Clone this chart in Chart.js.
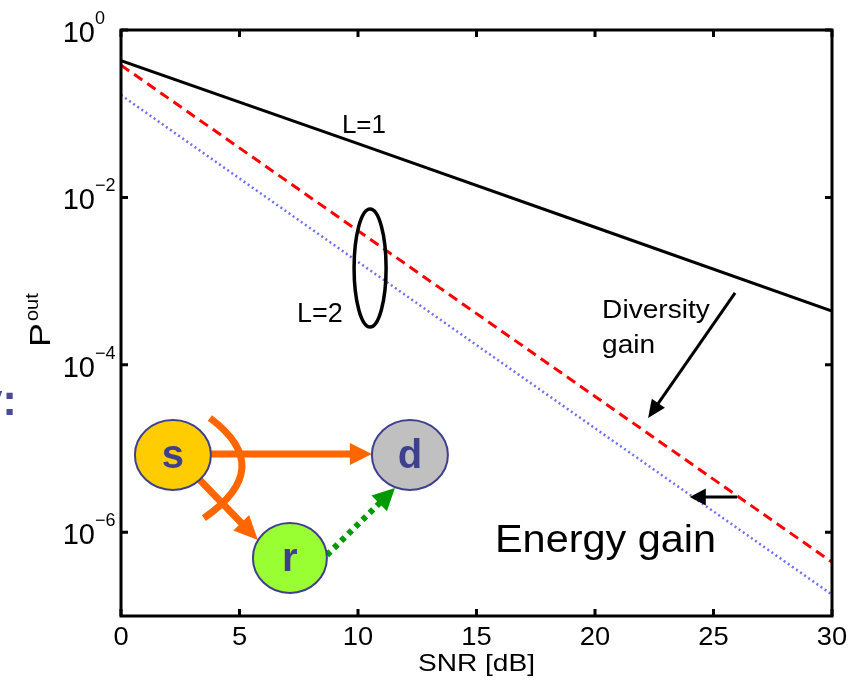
<!DOCTYPE html>
<html>
<head>
<meta charset="utf-8">
<title>Outage probability vs SNR</title>
<script src="https://cdn.jsdelivr.net/npm/chart.js@4.4.1/dist/chart.umd.min.js"></script>
<style>
  html, body { margin: 0; padding: 0; background: #fff; }
  #wrap { position: relative; width: 865px; height: 680px; }
</style>
</head>
<body>
<div id="wrap"><canvas id="outage-chart" width="865" height="680"></canvas></div>
<script>
// values (straight lines on a log axis)
const snrDb = [0, 10, 20, 30];
const outageL1 = [0.43, 0.044, 0.0044, 0.00044];          // solid black
const outageL2 = [0.38, 0.0040, 0.000042, 0.00000044];    // red dashed
const outageL2Shifted = [0.167, 0.0017, 0.0000175, 0.00000018]; // blue dotted

const xTicks = [0, 5, 10, 15, 20, 25, 30];
const yTickExponents = [0, -2, -4, -6];

const font = 'Arial, "Liberation Sans", sans-serif';
const nodeInk = '#3f3f8f';
const orange = '#ff6600';

function toPoints(values) {
    return snrDb.map((x, i) => ({ x: x, y: values[i] }));
}

// text with optional horizontal stretch (the source fonts run a bit wide)
function drawText(ctx, str, x, y, size, opts) {
    opts = opts || {};
    ctx.save();
    ctx.font = (opts.weight || '') + ' ' + size + 'px ' + font;
    ctx.fillStyle = opts.color || '#000';
    ctx.textAlign = opts.align || 'left';
    ctx.textBaseline = 'alphabetic';
    ctx.translate(x, y);
    if (opts.rotate) ctx.rotate(opts.rotate);
    ctx.scale(opts.sx || 1, 1);
    ctx.fillText(str, 0, 0);
    ctx.restore();
}

function drawArrow(ctx, x1, y1, x2, y2, o) {
    const ang = Math.atan2(y2 - y1, x2 - x1);
    const bx = x2 - Math.cos(ang) * o.head;
    const by = y2 - Math.sin(ang) * o.head;
    ctx.save();
    ctx.strokeStyle = o.color;
    ctx.fillStyle = o.color;
    ctx.lineWidth = o.width;
    ctx.setLineDash(o.dash || []);
    ctx.beginPath();
    ctx.moveTo(x1, y1);
    ctx.lineTo(bx + Math.cos(ang) * 2, by + Math.sin(ang) * 2);
    ctx.stroke();
    ctx.setLineDash([]);
    ctx.beginPath();
    ctx.moveTo(x2, y2);
    ctx.lineTo(bx + Math.sin(ang) * o.half, by - Math.cos(ang) * o.half);
    ctx.lineTo(bx - Math.sin(ang) * o.half, by + Math.cos(ang) * o.half);
    ctx.closePath();
    ctx.fill();
    ctx.restore();
}

function drawNode(ctx, cx, cy, rx, ry, fill, letter) {
    ctx.save();
    ctx.beginPath();
    ctx.ellipse(cx, cy, rx, ry, 0, 0, Math.PI * 2);
    ctx.fillStyle = fill;
    ctx.fill();
    ctx.lineWidth = 2;
    ctx.strokeStyle = nodeInk;
    ctx.stroke();
    ctx.restore();
    drawText(ctx, letter, cx, cy + 13, 40, { weight: 'bold', color: nodeInk, align: 'center' });
}

// frame, inward ticks, labels and all the slide annotations
const matlabFrame = {
    id: 'matlabFrame',
    afterDraw(chart) {
        const ctx = chart.ctx;
        const a = chart.chartArea;
        const xs = chart.scales.x;
        const ys = chart.scales.y;
        const X = v => xs.getPixelForValue(v);
        const Y = e => ys.getPixelForValue(Math.pow(10, e));

        ctx.save();
        ctx.strokeStyle = '#000';
        ctx.lineWidth = 3;
        ctx.strokeRect(a.left, a.top, a.right - a.left, a.bottom - a.top);

        ctx.beginPath();
        xTicks.forEach(t => {
            const px = X(t);
            ctx.moveTo(px, a.bottom); ctx.lineTo(px, a.bottom - 7);
            ctx.moveTo(px, a.top); ctx.lineTo(px, a.top + 7);
        });
        yTickExponents.forEach(e => {
            const py = Y(e);
            ctx.moveTo(a.left, py); ctx.lineTo(a.left + 7, py);
            ctx.moveTo(a.right, py); ctx.lineTo(a.right - 7, py);
        });
        ctx.stroke();
        ctx.restore();

        xTicks.forEach(t => {
            drawText(ctx, String(t), X(t), a.bottom + 29, 26, { align: 'center', sx: 1.05 });
        });
        yTickExponents.forEach(e => {
            const py = Y(e);
            drawText(ctx, '10', a.left - 26, py + 12, 29, { align: 'right' });
            const exp = e === 0 ? '0' : '\u2212' + Math.abs(e);
            drawText(ctx, exp, a.left - 26, py - 6, 18, {});
        });

        // axis titles
        drawText(ctx, 'SNR [dB]', X(15), a.bottom + 55, 24, { align: 'center', sx: 1.17 });
        drawText(ctx, 'P', 50, 347, 30, { rotate: -Math.PI / 2, sx: 1.2 });
        drawText(ctx, 'out', 38, 321, 19, { rotate: -Math.PI / 2, sx: 1.05 });

        // cut-off slide text on the far left
        drawText(ctx, 'y:', 17, 415, 44, { weight: 'bold', color: '#4a4a96', align: 'right' });

        // curve labels and the L=2 ellipse
        drawText(ctx, 'L=1', X(9.32), Y(-1.23), 26, {});
        drawText(ctx, 'L=2', X(7.43), Y(-3.49), 27, {});
        ctx.save();
        ctx.beginPath();
        ctx.ellipse(X(10.51), Y(-2.843), 16, 59, 0, 0, Math.PI * 2);
        ctx.lineWidth = 3.5;
        ctx.strokeStyle = '#000';
        ctx.stroke();
        ctx.restore();

        // diversity gain
        drawText(ctx, 'Diversity', X(20.3), Y(-3.44), 26, { sx: 1.08 });
        drawText(ctx, 'gain', X(20.3), Y(-3.86), 26, { sx: 1.08 });
        drawArrow(ctx, X(25.91), Y(-3.14), X(22.24), Y(-4.635),
            { color: '#000', width: 3, head: 18, half: 8 });

        // energy gain
        drawArrow(ctx, X(25.99), Y(-5.579), X(24.0), Y(-5.579),
            { color: '#000', width: 3, head: 16, half: 8.5 });
        drawText(ctx, 'Energy gain', X(15.78), Y(-6.236), 38, { sx: 1.09 });

        // relay diagram, anchored at the source node
        const sx = X(2.19), sy = Y(-5.077);
        ctx.save();
        ctx.strokeStyle = orange;
        ctx.lineWidth = 7;
        ctx.beginPath();
        ctx.moveTo(sx + 37, sy - 37);
        ctx.quadraticCurveTo(sx + 104, sy + 13, sx + 31, sy + 63);
        ctx.stroke();
        ctx.restore();
        drawArrow(ctx, sx + 36, sy - 1, sx + 199, sy - 1,
            { color: orange, width: 7, head: 22, half: 11 });
        drawArrow(ctx, sx + 25, sy + 23, sx + 85, sy + 85,
            { color: orange, width: 7, head: 24, half: 11 });
        drawArrow(ctx, sx + 154, sy + 100, sx + 222, sy + 33,
            { color: '#009900', width: 6, head: 22, half: 11, dash: [5, 5] });

        drawNode(ctx, sx, sy, 38, 35, '#ffcc00', 's');
        drawNode(ctx, sx + 237, sy, 38, 35, '#c0c0c0', 'd');
        drawNode(ctx, sx + 117, sy + 103, 37, 35, '#99ff33', 'r');
    }
};

const chart = new Chart(document.getElementById('outage-chart'), {
    type: 'line',
    data: {
        datasets: [
            {
                label: 'L=1',
                data: toPoints(outageL1),
                borderColor: '#000000',
                borderWidth: 3,
                pointRadius: 0,
                tension: 0
            },
            {
                label: 'L=2',
                data: toPoints(outageL2),
                borderColor: '#ff0000',
                borderWidth: 3,
                borderDash: [10, 6],
                pointRadius: 0,
                tension: 0
            },
            {
                label: 'L=2 (energy gain)',
                data: toPoints(outageL2Shifted),
                borderColor: '#6f6fff',
                borderWidth: 2.5,
                borderDash: [2, 3],
                pointRadius: 0,
                tension: 0
            }
        ]
    },
    options: {
        responsive: false,
        animation: false,
        layout: { padding: { left: 121, right: 33, top: 30, bottom: 64 } },
        plugins: {
            legend: { display: false },
            tooltip: { enabled: false }
        },
        scales: {
            x: { type: 'linear', min: 0, max: 30, display: false },
            y: { type: 'logarithmic', min: 1e-7, max: 1, display: false }
        }
    },
    plugins: [matlabFrame]
});
</script>
</body>
</html>
